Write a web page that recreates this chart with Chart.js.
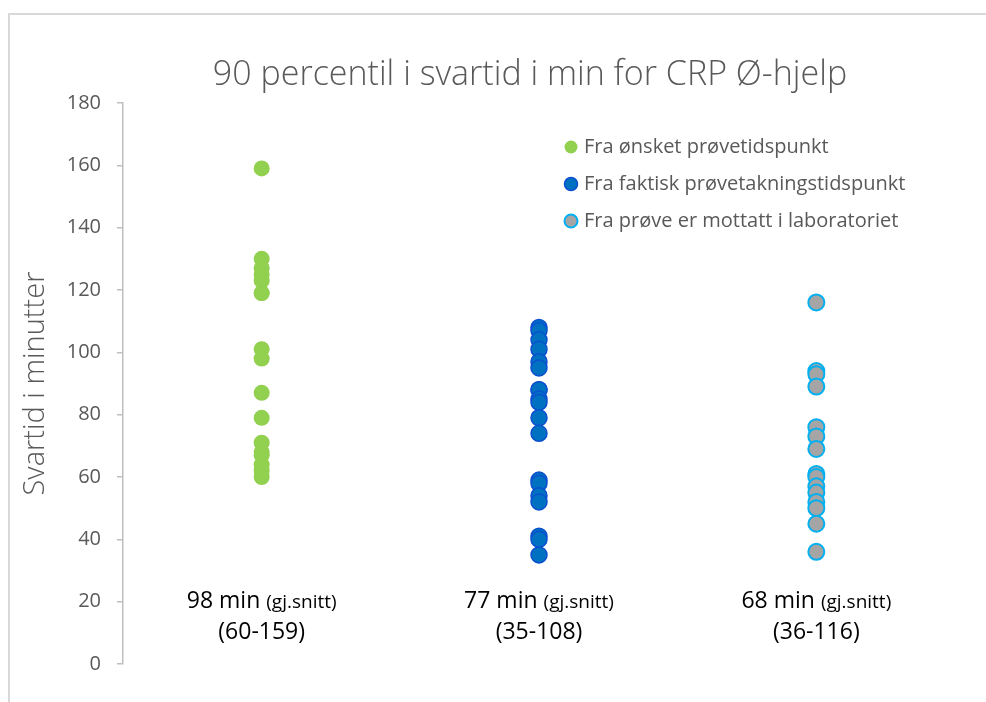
<!DOCTYPE html>
<html>
<head>
<meta charset="utf-8">
<script src="https://cdn.jsdelivr.net/npm/chart.js@4.4.1/dist/chart.umd.min.js"></script>
<style>
  body { margin: 0; background: #fff; }
  #wrap { position: relative; width: 986px; height: 702px; }
  #frame { position: absolute; left: 8px; top: 13px; right: 0; bottom: 0;
           border-top: 2px solid #d9d9d9; border-left: 2px solid #d9d9d9; }
  canvas { position: absolute; left: 0; top: 0; }
</style>
</head>
<body>
<div id="wrap">
  <div id="frame"></div>
  <canvas id="myChart" width="986" height="702"></canvas>
</div>
<script>
'use strict';

// Series names (legend)
let seriesNames = [
  'Fra ønsket prøvetidspunkt',
  'Fra faktisk prøvetakningstidspunkt',
  'Fra prøve er mottatt i laboratoriet'
];

// 90 percentil values per series (minutes)
let onsketValues = [159, 130, 127, 125, 123, 119, 119, 101, 98, 87, 79, 71, 68, 67, 64, 62, 60];
let faktiskValues = [108, 107, 104, 101, 97, 95, 88, 88, 85, 84, 79, 74, 59, 58, 54, 52, 41, 40, 35];
let mottattValues = [116, 94, 93, 89, 76, 73, 69, 61, 60, 57, 55, 52, 50, 45, 36];

// Text under each column
let meanMinutes = [98, 77, 68];
let rangeLabels = ['(60-159)', '(35-108)', '(36-116)'];

// Y axis ticks
let yTicks = [0, 20, 40, 60, 80, 100, 120, 140, 160, 180];

let FONT = "'Open Sans', 'Noto Sans', sans-serif";
let GREY = '#595959';

function toPoints(values, column) {
  return values.map(v => ({ x: column + 0.5, y: v }));
}

let colors = [
  { bg: '#92d050', border: '#92d050', width: 0 },
  { bg: '#0070c0', border: '#0a50d0', width: 1.5 },
  { bg: '#a5a5a5', border: '#00b0f0', width: 2 }
];

let allValues = [onsketValues, faktiskValues, mottattValues];

let datasets = allValues.map((vals, i) => ({
  label: seriesNames[i],
  data: toPoints(vals, i),
  backgroundColor: colors[i].bg,
  borderColor: colors[i].border,
  borderWidth: colors[i].width,
  pointRadius: 8,
  pointHoverRadius: 8
}));

// Title, legend and column texts drawn on top of the chart
let extras = {
  id: 'extras',
  afterDraw(chart) {
    let ctx = chart.ctx;
    let xs = chart.scales.x;
    let ys = chart.scales.y;
    ctx.save();

    // title
    ctx.fillStyle = GREY;
    ctx.font = '300 34px ' + FONT;
    ctx.textAlign = 'center';
    ctx.textBaseline = 'middle';
    ctx.fillText('90 percentil i svartid i min for CRP Ø-hjelp', 530, 75);

    // legend
    ctx.textAlign = 'left';
    ctx.font = '20px ' + FONT;
    for (let i = 0; i < seriesNames.length; i++) {
      let y = 147 + i * 37;
      ctx.beginPath();
      ctx.arc(571, y, 6.5, 0, Math.PI * 2);
      ctx.fillStyle = colors[i].bg;
      ctx.fill();
      if (colors[i].width) {
        ctx.lineWidth = colors[i].width;
        ctx.strokeStyle = colors[i].border;
        ctx.stroke();
      }
      ctx.fillStyle = GREY;
      ctx.fillText(seriesNames[i], 584, y);
    }

    // mean + range under each column
    ctx.fillStyle = '#000';
    for (let i = 0; i < meanMinutes.length; i++) {
      let cx = xs.getPixelForValue(i + 0.5);
      let y1 = ys.getPixelForValue(20);
      let y2 = ys.getPixelForValue(10);
      let a = meanMinutes[i] + ' min ';
      let b = '(gj.snitt)';
      ctx.font = '23px ' + FONT;
      let wa = ctx.measureText(a).width;
      ctx.font = '19px ' + FONT;
      let wb = ctx.measureText(b).width;
      let start = cx - (wa + wb) / 2;
      ctx.textAlign = 'left';
      ctx.font = '23px ' + FONT;
      ctx.fillText(a, start, y1);
      ctx.font = '19px ' + FONT;
      ctx.fillText(b, start + wa, y1 + 1);
      ctx.textAlign = 'center';
      ctx.font = '23px ' + FONT;
      ctx.fillText(rangeLabels[i], cx, y2);
    }
    ctx.restore();
  }
};

const myChart = new Chart(document.getElementById('myChart'), {
  type: 'scatter',
  data: { datasets: datasets },
  options: {
    responsive: false,
    animation: false,
    layout: { padding: { top: 103, bottom: 38, right: 31, left: 0 } },
    plugins: {
      legend: { display: false },
      tooltip: { enabled: false }
    },
    scales: {
      x: {
        type: 'linear',
        min: 0,
        max: 3,
        display: false
      },
      y: {
        min: 0,
        max: 180,
        afterFit(scale) { scale.width = 123; },
        afterBuildTicks(scale) { scale.ticks = yTicks.map(v => ({ value: v })); },
        border: { display: true, color: '#bfbfbf', width: 1.5 },
        grid: { drawOnChartArea: false, drawTicks: true, tickLength: 6, color: '#bfbfbf', lineWidth: 1.5 },
        ticks: { color: GREY, font: { family: FONT, size: 20 }, padding: 16 },
        title: {
          display: true,
          text: 'Svartid i minutter',
          color: GREY,
          font: { family: FONT, size: 29, weight: 300 },
          padding: { top: 18, bottom: 0 }
        }
      }
    }
  },
  plugins: [extras]
});
</script>
</body>
</html>
